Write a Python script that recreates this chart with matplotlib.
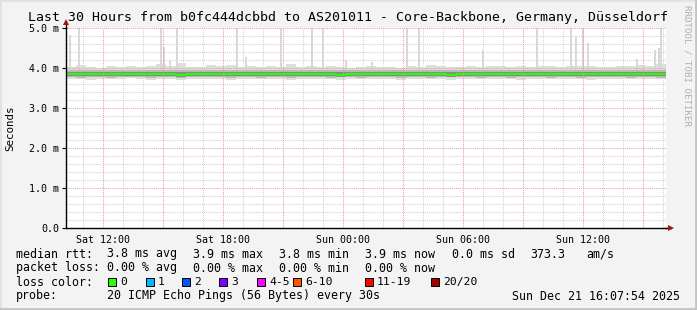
"""
SmokePing-style latency graph: last 30 hours, median RTT with smoke.
"""

import numpy as np
import pandas as pd
import matplotlib.pyplot as plt
import matplotlib.dates as mdates
from matplotlib.patches import Rectangle
from matplotlib.lines import Line2D

W, H = 697, 310
MONO = "DejaVu Sans Mono"

START = pd.Timestamp("2025-12-20 10:07:54")
END = pd.Timestamp("2025-12-21 16:07:54")

# median rtt per 30-minute bin (ms)
median_ms = [3.85, 3.84, 3.85, 3.85, 3.84, 3.86, 3.85, 3.84, 3.85, 3.85,
             3.84, 3.83, 3.85, 3.86, 3.85, 3.84, 3.85, 3.85, 3.86, 3.85,
             3.84, 3.85, 3.86, 3.85, 3.85, 3.84, 3.85, 3.83, 3.84, 3.85,
             3.85, 3.86, 3.85, 3.84, 3.85, 3.85, 3.85, 3.84, 3.83, 3.85,
             3.86, 3.85, 3.85, 3.84, 3.85, 3.85, 3.86, 3.85, 3.84, 3.85,
             3.84, 3.85, 3.86, 3.85, 3.85, 3.84, 3.85, 3.86, 3.85, 3.85]

# outer smoke envelope (ms)
smoke_top = [4.02, 4.08, 4.03, 4.01, 4.04, 4.03, 4.05, 4.02, 4.06, 4.10,
             4.04, 4.12, 4.03, 4.02, 4.08, 4.04, 4.07, 4.03, 4.05, 4.02,
             4.06, 4.03, 4.11, 4.02, 4.04, 4.03, 4.05, 4.02, 4.01, 4.03,
             4.06, 4.02, 4.03, 4.01, 4.04, 4.02, 4.08, 4.04, 4.03, 4.02,
             4.04, 4.03, 4.06, 4.05, 4.02, 4.04, 4.03, 4.05, 4.06, 4.03,
             4.05, 4.04, 4.06, 4.03, 4.02, 4.05, 4.04, 4.08, 4.06, 4.10]
smoke_bot = [3.72, 3.73, 3.71, 3.72, 3.73, 3.72, 3.74, 3.72, 3.71, 3.73,
             3.72, 3.71, 3.73, 3.72, 3.72, 3.73, 3.71, 3.72, 3.73, 3.72,
             3.72, 3.73, 3.71, 3.72, 3.73, 3.72, 3.72, 3.71, 3.72, 3.73,
             3.72, 3.72, 3.73, 3.71, 3.72, 3.72, 3.73, 3.72, 3.71, 3.72,
             3.73, 3.72, 3.72, 3.73, 3.72, 3.71, 3.72, 3.73, 3.72, 3.72,
             3.73, 3.72, 3.71, 3.72, 3.73, 3.72, 3.72, 3.73, 3.72, 3.72]
# inner smoke quartile band (ms)
smoke_mid_hi = [3.95, 3.96, 3.94, 3.95, 3.95, 3.96, 3.95, 3.94, 3.96, 3.95,
                3.95, 3.96, 3.95, 3.94, 3.95, 3.96, 3.95, 3.95, 3.94, 3.95,
                3.96, 3.95, 3.95, 3.94, 3.95, 3.95, 3.96, 3.95, 3.94, 3.95,
                3.95, 3.96, 3.95, 3.94, 3.95, 3.95, 3.96, 3.95, 3.95, 3.94,
                3.95, 3.96, 3.95, 3.95, 3.94, 3.95, 3.95, 3.96, 3.95, 3.95,
                3.94, 3.95, 3.96, 3.95, 3.95, 3.94, 3.95, 3.96, 3.95, 3.95]
smoke_mid_lo = [3.77, 3.76, 3.77, 3.77, 3.76, 3.77, 3.78, 3.77, 3.76, 3.77,
                3.77, 3.76, 3.77, 3.77, 3.78, 3.77, 3.76, 3.77, 3.77, 3.76,
                3.77, 3.77, 3.76, 3.77, 3.78, 3.77, 3.76, 3.77, 3.77, 3.76,
                3.77, 3.77, 3.78, 3.76, 3.77, 3.77, 3.76, 3.77, 3.77, 3.78,
                3.77, 3.76, 3.77, 3.77, 3.76, 3.77, 3.78, 3.77, 3.76, 3.77,
                3.77, 3.76, 3.77, 3.77, 3.78, 3.77, 3.76, 3.77, 3.77, 3.76]
# darkest core around the median (ms)
smoke_core_hi = [3.90, 3.89, 3.90, 3.90, 3.89, 3.91, 3.90, 3.89, 3.90, 3.90,
                 3.89, 3.89, 3.90, 3.91, 3.90, 3.89, 3.90, 3.90, 3.91, 3.90,
                 3.89, 3.90, 3.91, 3.90, 3.90, 3.89, 3.90, 3.89, 3.89, 3.90,
                 3.90, 3.91, 3.90, 3.89, 3.90, 3.90, 3.90, 3.89, 3.89, 3.90,
                 3.91, 3.90, 3.90, 3.89, 3.90, 3.90, 3.91, 3.90, 3.89, 3.90,
                 3.89, 3.90, 3.91, 3.90, 3.90, 3.89, 3.90, 3.91, 3.90, 3.90]
smoke_core_lo = [3.80, 3.79, 3.80, 3.80, 3.79, 3.81, 3.80, 3.79, 3.80, 3.80,
                 3.79, 3.78, 3.80, 3.81, 3.80, 3.79, 3.80, 3.80, 3.81, 3.80,
                 3.79, 3.80, 3.81, 3.80, 3.80, 3.79, 3.80, 3.78, 3.79, 3.80,
                 3.80, 3.81, 3.80, 3.79, 3.80, 3.80, 3.80, 3.79, 3.78, 3.80,
                 3.81, 3.80, 3.80, 3.79, 3.80, 3.80, 3.81, 3.80, 3.79, 3.80,
                 3.79, 3.80, 3.81, 3.80, 3.80, 3.79, 3.80, 3.81, 3.80, 3.80]

# slow individual pings (hours after START, ms)
spike_hours = [0.20, 0.65, 4.75, 4.90, 5.20, 5.53, 8.55, 9.00, 10.75, 12.30,
               12.85, 14.00, 15.30, 17.05, 17.65, 20.85, 23.55, 25.25, 25.50,
               25.85, 26.10, 28.55, 29.45, 29.65, 29.75]
spike_ms = [4.83, 5.60, 5.60, 4.53, 4.18, 5.60, 5.60, 4.28, 5.60, 5.60,
            5.60, 4.20, 4.15, 5.60, 5.60, 4.45, 5.60, 5.60, 4.78,
            5.60, 4.62, 4.22, 4.45, 4.50, 5.60]

loss_labels = ["0", "1", "2", "3", "4-5", "6-10", "11-19", "20/20"]
loss_colors = ["#26ff00", "#00b8ff", "#0059ff", "#7e00ff", "#ff00ff",
               "#ff5500", "#ff0000", "#a00000"]
loss_box_x = [108, 146, 182, 219, 257, 293, 365, 431]

# legend rows: (row label, [(x px, text), ...])
legend_rows = [
    ("median rtt:", [(107, "3.8 ms avg"), (193, "3.9 ms max"), (279, "3.8 ms min"),
                     (365, "3.9 ms now"), (452, "0.0 ms sd"), (530, "373.3"),
                     (586, "am/s")]),
    ("packet loss:", [(107, "0.00 % avg"), (193, "0.00 % max"),
                      (279, "0.00 % min"), (365, "0.00 % now")]),
    ("loss color:", []),
    ("probe:", [(107, "20 ICMP Echo Pings (56 Bytes) every 30s")]),
]
TITLE = "Last 30 Hours from b0fc444dcbbd to AS201011 - Core-Backbone, Germany, Düsseldorf"
STAMP = "Sun Dec 21 16:07:54 2025"


def fx(px):
    return px / W


def fy(py):
    return 1 - py / H


fig = plt.figure(figsize=(W / 100, H / 100), dpi=100, facecolor="#f3f3f3")

# frame bevel
fig.add_artist(Line2D([0, 1], [fy(0.5)] * 2, color="#e2e2e2", lw=1.5))
fig.add_artist(Line2D([fx(0.5)] * 2, [0, 1], color="#e2e2e2", lw=1.5))
fig.add_artist(Line2D([0, 1], [fy(309)] * 2, color="#c4c4c4", lw=2))
fig.add_artist(Line2D([fx(696)] * 2, [0, 1], color="#c4c4c4", lw=2))

ax = fig.add_axes([fx(66), fy(228), fx(600), 200 / H])
ax.set_facecolor("white")

bins = START + pd.to_timedelta(np.arange(len(median_ms) + 1) * 30, unit="min")
edges = bins.to_pydatetime()


def band(lo, hi, color):
    lo = list(lo) + [lo[-1]]
    hi = list(hi) + [hi[-1]]
    ax.fill_between(edges, lo, hi, step="post", color=color, lw=0, zorder=2)


band(smoke_bot, smoke_top, "#dedede")
spike_t = [START + pd.Timedelta(hours=h) for h in spike_hours]
ax.bar(spike_t, np.array(spike_ms) - 3.9, bottom=3.9, width=0.1 / 24,
       color="#d8d8d8", lw=0, zorder=2)
band(smoke_mid_lo, smoke_mid_hi, "#b9b9b9")
band(smoke_core_lo, smoke_core_hi, "#8a8a8a")
ax.step(edges, list(median_ms) + [median_ms[-1]], where="post",
        color="#26ff00", lw=1.5, zorder=4)

ax.set_xlim(START, END)
ax.set_ylim(0, 5.0)

# grid
for v in np.arange(0.2, 5.01, 0.2):
    major = abs(v - round(v)) < 1e-6
    ax.axhline(v, color="#e4a3a3" if major else "#d2d2d2", lw=0.75,
               ls=(0, (1, 1)), zorder=1 if not major else 3)
hours = pd.date_range(START.ceil("h"), END, freq="h")
for t in hours:
    major = t.hour % 3 == 0
    ax.axvline(t, color="#e4a3a3" if major else "#d2d2d2", lw=0.75,
               ls=(0, (1, 1)), zorder=1 if not major else 3)

ax.set_yticks(np.arange(0, 5.01, 1.0))
ax.set_yticklabels(["0.0"] + [f"{v:.1f} m" for v in np.arange(1, 5.01, 1.0)],
                   family=MONO, fontsize=7.2)
ax.xaxis.set_major_locator(mdates.HourLocator(byhour=[0, 6, 12, 18]))
ax.xaxis.set_major_formatter(mdates.DateFormatter("%a %H:%M"))
for lab in ax.get_xticklabels():
    lab.set_family(MONO)
ax.tick_params(axis="x", labelsize=7.2, length=0, pad=5)
ax.tick_params(axis="y", length=3, width=0.8, pad=2, color="black")

for s in ["top", "right"]:
    ax.spines[s].set_visible(False)
for s in ["left", "bottom"]:
    ax.spines[s].set_linewidth(1.0)
    ax.spines[s].set_zorder(5)

# axis extensions with arrowheads
ax.plot([0, 0], [1.0, 1.03], color="black", lw=1.0, transform=ax.transAxes,
        clip_on=False, zorder=5)
ax.plot([1.0, 1.008], [0, 0], color="black", lw=1.0, transform=ax.transAxes,
        clip_on=False, zorder=5)
ax.plot([0], [1.03], marker="^", ms=4.5, color="#a31515", mew=0,
        transform=ax.transAxes, clip_on=False, zorder=6)
ax.plot([1.008], [0], marker=">", ms=4.5, color="#a31515", mew=0,
        transform=ax.transAxes, clip_on=False, zorder=6)

fig.text(fx(348), fy(18), TITLE, family=MONO, fontsize=9.5,
         ha="center", va="center")
fig.text(fx(10), fy(128), "Seconds", family=MONO, fontsize=7.8,
         rotation=90, ha="center", va="center")
fig.text(fx(687), fy(5), "RRDTOOL / TOBI OETIKER", family=MONO, fontsize=6.6,
         rotation=270, ha="center", va="top", color="#b0b0b0")

for i, (label, items) in enumerate(legend_rows):
    y = fy(254 + 14 * i)
    fig.text(fx(16), y, label, family=MONO, fontsize=8.35, ha="left", va="center")
    for x, txt in items:
        fig.text(fx(x), y, txt, family=MONO, fontsize=8.35, ha="left", va="center")

for bx, lab, col in zip(loss_box_x, loss_labels, loss_colors):
    fig.add_artist(Rectangle((fx(bx), fy(286)), fx(8), 8 / H,
                             facecolor=col, edgecolor="black", lw=0.7))
    fig.text(fx(bx + 12), fy(282), lab, family=MONO, fontsize=8.2,
             ha="left", va="center")

fig.text(fx(680), fy(296), STAMP, family=MONO, fontsize=8.35,
         ha="right", va="center")

fig.savefig("out.png", dpi=100, facecolor=fig.get_facecolor())
